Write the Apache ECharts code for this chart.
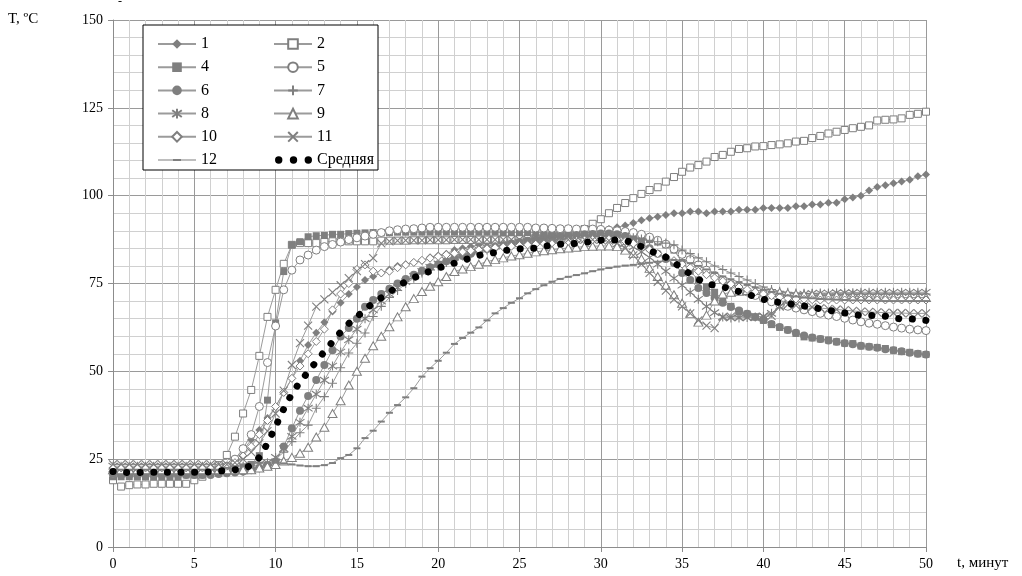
<!DOCTYPE html>
<html><head><meta charset="utf-8">
<script src="https://cdn.jsdelivr.net/npm/echarts@6/dist/echarts.min.js"></script>
<style>html,body{margin:0;padding:0;background:#fff}#c{width:1022px;height:576px}</style>
</head><body><div id="c"></div>
<script>
var tMin = [0,0.5,1,1.5,2,2.5,3,3.5,4,4.5,5,5.5,6,6.5,7,7.5,8,8.5,9,9.5,10,10.5,11,11.5,12,12.5,13,13.5,14,14.5,15,15.5,16,16.5,17,17.5,18,18.5,19,19.5,20,20.5,21,21.5,22,22.5,23,23.5,24,24.5,25,25.5,26,26.5,27,27.5,28,28.5,29,29.5,30,30.5,31,31.5,32,32.5,33,33.5,34,34.5,35,35.5,36,36.5,37,37.5,38,38.5,39,39.5,40,40.5,41,41.5,42,42.5,43,43.5,44,44.5,45,45.5,46,46.5,47,47.5,48,48.5,49,49.5,50];

var s1 = [21,21,21,21,21,21,21,21,21,21,
21,21.5,21.5,22,23,25,27.6,30.5,33.3,36.7,
40,44,48,53,57.5,61,64,67,69.5,72,
74,76,77,78,79,80,80.5,81,81.5,82.5,
83,83.5,84.5,85,85.5,86,86.5,87,87,87.5,
87.5,88,88,88.5,88.5,89,89,89,89.5,89.5,
90,90.5,91,91.5,92.2,93,93.6,94,94.5,95,
95,95.5,95.5,95,95.5,95.5,95.5,96,96,96,
96.5,96.5,96.5,96.5,97,97,97.5,97.5,98,98,
99,99.5,100,101.5,102.5,103,103.5,104,104.5,105.5,
106];
var s2 = [19,17.2,17.6,17.8,17.8,18,18,18,18,18,
19,20,21.5,23.3,26.2,31.4,38,44.7,54.4,65.5,
73.2,80.6,86,86.5,86.5,86.5,86.8,87,87,87,
87,87,87,87.2,87.2,87.2,87.2,87.3,87.3,87.3,
87.3,87.3,87.4,87.4,87.4,87.5,87.5,87.5,87.5,87.6,
87.6,88,88,88.3,88.5,88.8,89,89.5,90.5,92,
93.3,95,96.5,97.9,99.3,100.5,101.6,102.4,104,105.3,
106.8,108,108.7,109.7,111,111.6,112.5,113.3,113.5,114,
114.1,114.4,114.6,114.9,115.4,115.6,116.4,117,117.7,118.2,
118.7,119.2,119.6,120,121.4,121.6,121.7,122,123,123.3,
123.9];
var s4 = [20,20,20,20,20,20,20,20,20,20.5,
20.5,20.5,21,21,21.5,22,22.5,23.5,26,41.8,
63.8,78.4,86,86.9,88.3,88.6,88.7,89,89,89.2,
89.3,89.4,89.5,89.5,89.5,89.6,89.6,89.6,89.6,89.6,
89.6,89.6,89.6,89.6,89.6,89.6,89.6,89.6,89.5,89.5,
89.5,89.5,89.5,89.5,89.4,89.4,89.4,89.4,89.3,89.3,
89.2,89.1,89,88.8,88.5,88,87.5,86.8,86,84.5,
81,78.5,76,74,72.5,70.5,68.5,67,66.3,65.5,
64.5,63.3,62.5,61.8,60.8,59.8,59.5,59.2,58.9,58.4,
58,57.9,57.2,57,56.8,56.5,56,55.6,55.4,55,
54.8];
var s5 = [21,21,21,21,21,21,21,21,21,21,
21,21,21.5,22,23,25,28,32,40,52.5,
62.9,73.2,78.8,81.7,83.1,84.5,85.5,86.1,86.8,87.5,
88,88.5,89,89.5,90,90.3,90.5,90.6,90.8,91,
91,91,91,91,91,91,91,91,91,91,
91,91,90.8,90.8,90.7,90.6,90.6,90.5,90.5,90.5,
90.4,90.2,90,89.8,89.5,89,88.2,87.3,86.2,84.8,
83.3,81.8,80.3,78.8,77.3,76,74.7,73.6,72.6,71.6,
70.7,69.8,69.1,68.5,68,67.5,67,66.5,66,65.6,
65.1,64.6,64.1,63.7,63.4,63,62.6,62.3,62,61.8,
61.6];
var s6 = [21,20.5,20.5,20.5,20.5,20.5,20.5,20.5,20.5,20.5,
20.5,20.5,20.5,20.8,21,21.2,21.5,22,22.5,23.2,
24.3,28.6,33.8,38.8,43,47.5,51.8,56,59.9,62.3,
65,68.4,70.3,72,73.5,75,76.3,77.5,78.6,79.6,
80.5,81.3,82.1,82.8,83.5,84.2,84.8,85.4,85.9,86.4,
86.8,87.2,87.5,87.8,88.1,88.4,88.6,88.8,89,89.1,
89.2,89.2,89,88.5,87.5,86.3,85,83.5,82,80.8,
78,76,73.7,72.3,70.9,69.5,68.3,67.3,66.4,65.5,
64.6,63.5,62.6,61.8,61,60.2,59.6,59.2,58.8,58.4,
58,57.7,57.3,57,56.7,56.3,56,55.7,55.3,55,
54.8];
var s7 = [21.5,21.5,21.5,21.5,21.5,21.5,21.5,21.5,21.5,21.5,
21.5,21.5,21.5,21.5,21.5,21.5,21.5,22,22.5,23.5,
25,27,30,32.5,34.7,39.5,42.8,46.6,51,55.2,
58,60.9,65.6,68.5,71,73,75,76.5,78,79,
80,81,82,82.8,83.5,84,84.5,85,85.5,85.8,
86,86.3,86.6,87,87.2,87.5,87.7,88,88.2,88.4,
88.5,88.6,88.6,88.4,88,87.7,87.3,86.9,86.5,86,
84.5,83.5,82.3,81.2,80,79,78,77,76,75,
74,73.3,72.8,72.5,72.3,72.2,72.1,72,72,72,
72,72,72,72,72,72,72,72,72,72,
72];
var s8 = [23,23,23,23,23,23,23,23,23,23,
23,23,23,23,23,23,23,23,23.5,24,
25.5,28,31.5,35.5,39.5,43.5,47.5,51.5,55.5,59,
62,65,67.5,70,72,73.8,75.5,77,78.4,79.6,
80.6,81.6,82.5,83.3,84,84.6,85.2,85.6,86,86.3,
86.6,86.9,87.1,87.3,87.5,87.7,87.8,87.9,88,88,
88,87.8,87.3,86.5,85.4,84,82.4,80.5,78.5,76.5,
74.5,72.5,70.5,68.5,66.7,65.5,65.2,65.2,65.3,65.5,
65.7,66.5,68.5,70.5,71.5,72,72.2,72.3,72.3,72.4,
72.4,72.4,72.5,72.5,72.5,72.5,72.5,72.5,72.5,72.5,
72.5];
var s9 = [22,22,22,22,22,22,22,22,22,22,
22,22,22,22,22,22,22,22,22.5,23,
23.5,24.5,25.5,26.7,28.4,31.3,34.1,38,41.6,46.1,
50,53.7,57.3,60,62.7,65.5,68.4,70.7,72.7,74.2,
75.5,77,78.4,79.1,79.8,80.5,81.2,81.8,82.3,82.8,
83.2,83.6,84,84.3,84.6,84.9,85.1,85.3,85.5,85.6,
85.7,85.7,85.5,84.5,83.5,82,79.3,77,74.5,71.8,
69.4,66.5,64,66,70,72,72.5,72.8,73,73,
73,72.8,72.5,72.2,72,71.8,71.7,71.6,71.5,71.5,
71.4,71.3,71.3,71.2,71.2,71.1,71.1,71,71,71,
71];
var s10 = [22.5,22.5,22.5,22.5,22.5,22.5,22.5,22.5,22.5,22.5,
22.5,22.5,22.5,22.5,23,24,25.9,28.6,32,36,
40,44,48,51.5,55,58.5,62,67.5,72,75,
79,80.3,78.5,78,78.5,79.5,80.3,81,81.6,82.2,
82.7,83.2,83.6,84,84.3,84.6,84.9,85.2,85.4,85.6,
85.8,86,86.2,86.4,86.6,86.8,87,87.2,87.4,87.5,
87.6,87.6,87.4,87,86.4,85.6,84.6,83.5,82.5,81.5,
80.5,79.5,78.5,77.5,76.6,75.7,74.8,74,73.3,72.6,
72,71.5,71.1,70.8,70.6,70.5,70.4,70.3,70.3,70.3,
70.3,70.3,70.3,70.3,70.3,70.3,70.3,70.3,70.3,70.3,
70.3];
var s11 = [23.5,23.5,23.5,23.5,23.5,23.5,23.5,23.5,23.5,23.5,
23.5,23.5,23.5,23.5,23.5,24,25,27,29.5,33,
38,44.5,51.8,58,63,68.4,70.5,72.5,74.5,76.5,
78.5,80.5,82.2,86.4,87,87.2,87.3,87.3,87.3,87.4,
87.4,87.4,87.5,87.5,87.5,87.5,87.5,87.5,87.5,87.5,
87.5,87.5,87.5,87.5,87.5,87.5,87.5,87.5,87.5,87.5,
87.5,87.2,86.5,85,83,80.5,78,75.5,73,70.5,
68.5,66.5,64.5,63,62.3,65.4,65.6,65.6,65.5,65.5,
65.5,65.8,68.4,69,68.8,68.5,68.3,68,67.8,67.6,
67.4,67.2,67,66.9,66.8,66.7,66.6,66.6,66.5,66.5,
66.5];
var s12 = [22,22,22,22,22,22,22,22,22,22,
22,22,22,22,22.5,23,23.5,24,24,24,
24,23.8,23.5,23.2,23,23,23.3,23.9,25.3,26.2,
28.1,31,33.1,35.7,38.2,40.4,42.6,45.2,48.5,50.9,
53,55.3,57.8,59.5,61,62.5,64.5,66.5,68,69.5,
70.8,72.2,73.4,74.5,75.5,76.3,76.9,77.4,77.9,78.5,
79,79.4,79.8,80.1,80.3,80.6,80.9,81.2,81.5,81.7,
81.5,80.8,80,79,78,77,76.2,75.4,74.6,73.9,
73.2,72.6,72.1,71.6,71.3,71,70.8,70.6,70.5,70.4,
70.3,70.2,70.2,70.1,70.1,70,70,70,70,70,
70];
var avg = [21.5,21.3,21.2,21.2,21.3,21.3,21.3,21.3,21.3,21.3,
21.3,21.3,21.4,21.6,21.8,22,22.3,23.2,25.5,29.5,
34.3,39.3,43.6,47,49.8,52.8,55.6,58.4,61.2,63.6,
65.5,67.5,69.5,70.9,72.4,74.3,75.5,76.6,77.7,78.5,
79.4,80.1,80.8,81.5,82.3,83,83.5,83.8,84.2,84.8,
84.9,84.9,85.1,85.5,86,86.2,86.3,86.4,86.6,87.1,
87.3,87.4,87.4,87.2,86.6,85.5,84.4,83.4,82.5,81,
79.2,77.7,76.2,74.9,74.5,74,73.5,72.7,72,71.2,
70.5,70,69.6,69.3,69,68.6,68.2,67.8,67.4,67,
66.6,66.2,65.9,65.9,65.9,65.7,65.2,64.9,64.9,64.8,
64.5];

var xTicks = [0,5,10,15,20,25,30,35,40,45,50];
var yTicks = [0,25,50,75,100,125,150];

var MK = '#7f7f7f', LN = '#9b9b9b';
var FONT = '"Liberation Serif", "Times New Roman", serif';

function pairs(arr){ return arr.map(function(v,i){ return [tMin[i], v]; }); }
function ser(name, data, symbol, size, kind){
  var it;
  if (kind === 'fill') it = {color: MK, borderWidth: 0};
  else if (kind === 'hollow') it = {color: '#fff', borderColor: MK, borderWidth: 1};
  else it = {color: 'none', borderColor: MK, borderWidth: 1.1};
  return {
    name: name, type: 'line', data: pairs(data), symbol: symbol, symbolSize: size,
    showSymbol: true, showAllSymbol: true, itemStyle: it,
    lineStyle: {color: LN, width: 1}, z: 2
  };
}

var series = [
  ser('1', s1, 'diamond', 8, 'fill'),
  ser('2', s2, 'rect', 7, 'hollow'),
  ser('4', s4, 'rect', 7, 'fill'),
  ser('5', s5, 'circle', 8, 'hollow'),
  ser('6', s6, 'circle', 8, 'fill'),
  ser('7', s7, 'path://M5,0L5,10M0,5L10,5', 9, 'stroke'),
  ser('8', s8, 'path://M1.5,1.5L8.5,8.5M8.5,1.5L1.5,8.5M5,0L5,10', 9, 'stroke'),
  ser('9', s9, 'path://M5,0L10,9L0,9Z', [9,8], 'hollow'),
  ser('10', s10, 'diamond', 8, 'hollow'),
  ser('11', s11, 'path://M0,0L10,10M10,0L0,10', 8, 'stroke'),
  ser('12', s12, 'rect', [7,2], 'fill'),
  {
    name: 'Средняя', type: 'line', data: pairs(avg), symbol: 'none', showSymbol: false,
    itemStyle: {color: '#000'},
    lineStyle: {color: '#000', width: 7, type: [0.1, 13.5], cap: 'round'}, z: 5
  }
];

var ICON12 = 'path://M0,5.6L38,5.6L38,6.4L0,6.4Z M15,5L23,5L23,7L15,7Z';
var ICONAVG = 'path://M1,6a3.6,3.6 0 1,0 7.2,0a3.6,3.6 0 1,0 -7.2,0Z M15.4,6a3.6,3.6 0 1,0 7.2,0a3.6,3.6 0 1,0 -7.2,0Z M29.8,6a3.6,3.6 0 1,0 7.2,0a3.6,3.6 0 1,0 -7.2,0Z M0,0.5L0.01,0.5 M0,11.5L0.01,11.5';

var legendText = {fontFamily: FONT, fontSize: 16, color: '#000'};
var chart = echarts.init(document.getElementById('c'), null, {renderer: 'canvas'});
chart.setOption({
  animation: false,
  backgroundColor: '#fff',
  grid: {left: 113, right: 96, top: 20, bottom: 29, containLabel: false},
  xAxis: {
    type: 'value', min: xTicks[0], max: xTicks[xTicks.length-1], interval: 5,
    axisLine: {show: true, onZero: false, lineStyle: {color: '#8c8c8c', width: 1}},
    axisTick: {show: true, inside: false, length: 5, lineStyle: {color: '#8c8c8c'}},
    axisLabel: {color: '#000', fontFamily: FONT, fontSize: 14, margin: 10},
    splitLine: {show: true, lineStyle: {color: '#9a9a9a', width: 1}},
    minorTick: {show: false, splitNumber: 5},
    minorSplitLine: {show: true, lineStyle: {color: '#d0d0d0', width: 1}}
  },
  yAxis: {
    type: 'value', min: yTicks[0], max: yTicks[yTicks.length-1], interval: 25,
    axisLine: {show: true, lineStyle: {color: '#8c8c8c', width: 1}},
    axisTick: {show: true, inside: false, length: 5, lineStyle: {color: '#8c8c8c'}},
    axisLabel: {color: '#000', fontFamily: FONT, fontSize: 14, margin: 10},
    splitLine: {show: true, lineStyle: {color: '#9a9a9a', width: 1}},
    minorTick: {show: false, splitNumber: 5},
    minorSplitLine: {show: true, lineStyle: {color: '#d0d0d0', width: 1}}
  },
  legend: [
    {
      data: ['1','4','6','8','10',{name: '12', icon: ICON12}], orient: 'vertical', left: 152, top: 31,
      itemWidth: 38, itemHeight: 12, itemGap: 7.2, selectedMode: false,
      textStyle: legendText, z: 10
    },
    {
      data: ['2','5','7','9','11',{name: 'Средняя', icon: ICONAVG}], orient: 'vertical', left: 268, top: 31,
      itemWidth: 38, itemHeight: 12, itemGap: 7.2, selectedMode: false,
      textStyle: legendText, z: 10
    }
  ],
  graphic: [
    {type: 'rect', shape: {x: 143, y: 25, width: 235, height: 145}, z: 8,
     style: {fill: '#fff', stroke: '#000', lineWidth: 1}},
    {type: 'text', left: 8, top: 12, z: 9,
     style: {text: 'T, ºС', font: '15px ' + FONT, fill: '#000'}},
    {type: 'text', left: 957, top: 556, z: 9,
     style: {text: 't, минут', font: '15px ' + FONT, fill: '#000'}},
    {type: 'text', left: 118, top: -4, z: 9,
     style: {text: '-', font: '12px ' + FONT, fill: '#000'}}
  ],
  series: series
});
</script>
</body></html>
